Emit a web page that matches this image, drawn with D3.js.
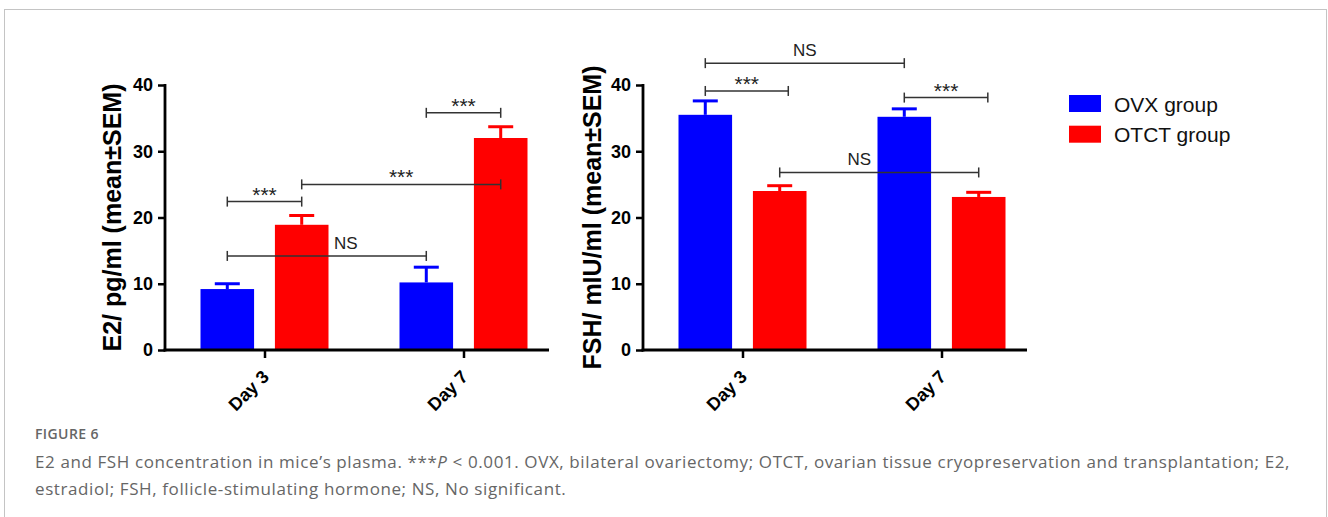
<!DOCTYPE html>
<html>
<head>
<meta charset="utf-8">
<script src="https://cdn.jsdelivr.net/npm/d3@7"></script>
<style>
  body { margin: 0; background: #fff; }
  svg { display: block; }
</style>
</head>
<body>
<script>
// ---- data ----
var days = ["Day 3", "Day 7"];
var groups = ["OVX group", "OTCT group"];
var groupColors = ["#0000ff", "#ff0000"];
var yTicks = [0, 10, 20, 30, 40];

var e2OvxMean = [9.2, 10.2];
var e2OvxSem = [0.8, 2.3];
var e2OtctMean = [18.9, 32.0];
var e2OtctSem = [1.4, 1.7];

var fshOvxMean = [35.5, 35.2];
var fshOvxSem = [2.1, 1.2];
var fshOtctMean = [24.0, 23.1];
var fshOtctSem = [0.8, 0.7];

// comparisons: [day, group] -> [day, group], at a level in axis units
var e2Comparisons = [
    { from: [0, 0], to: [0, 1], level: 22.4, label: "***" },
    { from: [0, 1], to: [1, 1], level: 25.0, label: "***" },
    { from: [0, 0], to: [1, 0], level: 14.2, label: "NS" },
    { from: [1, 0], to: [1, 1], level: 35.8, label: "***" }
];
var fshComparisons = [
    { from: [0, 0], to: [1, 0], level: 43.3, label: "NS" },
    { from: [0, 0], to: [0, 1], level: 39.1, label: "***" },
    { from: [1, 0], to: [1, 1], level: 38.1, label: "***" },
    { from: [0, 1], to: [1, 1], level: 26.8, label: "NS" }
];

var captionTitle = "FIGURE 6";

// ---- layout ----
var svg = d3.select("body").append("svg")
    .attr("width", 1328)
    .attr("height", 517);

svg.append("rect")
    .attr("x", 4.5).attr("y", 9.5)
    .attr("width", 1322).attr("height", 600)
    .attr("fill", "none")
    .attr("stroke", "#c4c4c4")
    .attr("stroke-width", 1);

var plotTop = 85, plotBottom = 350, plotW = 384;

var y = d3.scaleLinear().domain([0, 40]).range([plotBottom, plotTop]);

function drawPanel(left, titleText, titleX, ovxMean, ovxSem, otctMean, otctSem, comps, nudges, ends) {
    var g = svg.append("g").attr("transform", "translate(" + left + ",0)");

    var x0 = d3.scaleBand().domain(days).range([0, 398]).paddingInner(0).paddingOuter(0);
    var x1 = d3.scaleBand().domain(groups).range([0, 128]).paddingInner(0.28);
    var offset = x0.bandwidth() / 2 - 64;

    var means = [ovxMean, otctMean];
    var sems = [ovxSem, otctSem];

    var bars = [];
    days.forEach(function (d, i) {
        groups.forEach(function (s, j) {
            bars.push({ day: d, group: s, j: j, mean: means[j][i], sem: sems[j][i] });
        });
    });

    function barX(d) { return x0(d.day) + offset + x1(d.group); }

    // bars
    g.selectAll(".bar")
        .data(bars)
        .enter().append("rect")
        .attr("class", "bar")
        .attr("x", barX)
        .attr("y", function (d) { return y(d.mean); })
        .attr("width", x1.bandwidth())
        .attr("height", function (d) { return y(0) - y(d.mean); })
        .attr("fill", function (d) { return groupColors[d.j]; });

    // error bars (upper only)
    var eb = g.selectAll(".err")
        .data(bars)
        .enter().append("g")
        .attr("class", "err")
        .attr("stroke", function (d) { return groupColors[d.j]; })
        .attr("stroke-width", 3);
    eb.append("line")
        .attr("x1", function (d) { return barX(d) + x1.bandwidth() / 2; })
        .attr("x2", function (d) { return barX(d) + x1.bandwidth() / 2; })
        .attr("y1", function (d) { return y(d.mean); })
        .attr("y2", function (d) { return y(d.mean + d.sem); });
    eb.append("line")
        .attr("x1", function (d) { return barX(d) + x1.bandwidth() / 2 - 12.5; })
        .attr("x2", function (d) { return barX(d) + x1.bandwidth() / 2 + 12.5; })
        .attr("y1", function (d) { return y(d.mean + d.sem); })
        .attr("y2", function (d) { return y(d.mean + d.sem); });

    // y axis
    var yAxis = d3.axisLeft(y).tickValues(yTicks).tickSize(7).tickPadding(5);
    var ya = g.append("g").attr("class", "y axis").call(yAxis);
    ya.select(".domain").remove();
    ya.selectAll(".tick line").attr("stroke", "#000").attr("stroke-width", 2.5);
    ya.selectAll(".tick text")
        .attr("font-family", "Liberation Sans, Arial, sans-serif")
        .attr("font-weight", "bold")
        .attr("font-size", 18)
        .attr("fill", "#000");
    g.append("line")
        .attr("x1", 0).attr("x2", 0)
        .attr("y1", y(40) - 1).attr("y2", y(0) + 1.5)
        .attr("stroke", "#000").attr("stroke-width", 2.8);

    // x axis
    var xAxis = d3.axisBottom(d3.scalePoint().domain(days).range([x0(days[0]) + x0.bandwidth() / 2, x0(days[1]) + x0.bandwidth() / 2]))
        .tickSize(8);
    var xa = g.append("g").attr("class", "x axis")
        .attr("transform", "translate(0," + y(0) + ")")
        .call(xAxis);
    xa.select(".domain").remove();
    xa.selectAll(".tick line").attr("stroke", "#000").attr("stroke-width", 2.5);
    xa.selectAll(".tick text")
        .attr("font-family", "Liberation Sans, Arial, sans-serif")
        .attr("font-weight", "bold")
        .attr("font-size", 18)
        .attr("fill", "#000")
        .attr("text-anchor", "end")
        .attr("dy", null)
        .attr("y", null)
        .attr("transform", "translate(5,28) rotate(-45)");
    g.append("line")
        .attr("x1", -1.4).attr("x2", plotW)
        .attr("y1", y(0)).attr("y2", y(0))
        .attr("stroke", "#000").attr("stroke-width", 2.8);

    // axis title
    g.append("text")
        .attr("transform", "translate(" + titleX + "," + ((plotTop + plotBottom) / 2) + ") rotate(-90)")
        .attr("text-anchor", "middle")
        .attr("dy", "0.35em")
        .attr("font-family", "Liberation Sans, Arial, sans-serif")
        .attr("font-weight", "bold")
        .attr("font-size", 25)
        .attr("fill", "#000")
        .text(titleText);

    // comparison brackets
    function endX(p, frac) {
        return x0(days[p[0]]) + offset + x1(groups[p[1]]) + x1.bandwidth() * frac;
    }
    comps.forEach(function (c, k) {
        var xa1 = endX(c.from, 0.5);
        var xa2 = endX(c.to, ends[k]);
        var yy = y(c.level);
        var b = g.append("g").attr("stroke", "#333").attr("stroke-width", 1.5);
        b.append("line").attr("x1", xa1).attr("x2", xa2).attr("y1", yy).attr("y2", yy);
        b.append("line").attr("x1", xa1).attr("x2", xa1).attr("y1", yy - 5).attr("y2", yy + 5);
        b.append("line").attr("x1", xa2).attr("x2", xa2).attr("y1", yy - 5).attr("y2", yy + 5);
        var isStar = c.label === "***";
        g.append("text")
            .attr("x", (xa1 + xa2) / 2 + nudges[k])
            .attr("y", yy - (isStar ? 0 : 7))
            .attr("text-anchor", "middle")
            .attr("font-family", "Liberation Sans, Arial, sans-serif")
            .attr("font-size", isStar ? 21 : 17)
            .attr("fill", "#222")
            .text(c.label);
    });
}

drawPanel(165, "E2/ pg/ml (mean\u00b1SEM)", -53, e2OvxMean, e2OvxSem, e2OtctMean, e2OtctSem,
    e2Comparisons, [0, 0, 19, 0], [0.5, 0.5, 0.5, 0.5]);
drawPanel(643, "FSH/ mIU/ml (mean\u00b1SEM)", -51, fshOvxMean, fshOvxSem, fshOtctMean, fshOtctSem,
    fshComparisons, [0, 0, 0, -20], [0.5, 0.66, 0.67, 0.5]);

// legend
var legend = svg.append("g").attr("transform", "translate(1069,95)");
groups.forEach(function (s, i) {
    legend.append("rect")
        .attr("x", 0).attr("y", i * 30.7)
        .attr("width", 32).attr("height", 17)
        .attr("fill", groupColors[i]);
    legend.append("text")
        .attr("x", 45).attr("y", i * 30.7 + 9)
        .attr("dy", "0.36em")
        .attr("font-family", "Liberation Sans, Arial, sans-serif")
        .attr("font-size", 21)
        .attr("fill", "#111")
        .text(s);
});

// caption
var cap = svg.append("g")
    .attr("font-family", "Open Sans, sans-serif")
    .attr("fill", "#666");
cap.append("text")
    .attr("x", 35).attr("y", 439)
    .attr("font-size", 14)
    .attr("font-weight", 600)
    .attr("letter-spacing", 0.4)
    .text(captionTitle);
var l1 = cap.append("text").attr("x", 35).attr("y", 468)
    .attr("font-size", 17).attr("letter-spacing", 0.6);
l1.append("tspan").text("E2 and FSH concentration in mice\u2019s plasma. ***");
l1.append("tspan").attr("font-style", "italic").text("P");
l1.append("tspan").text(" < 0.001. OVX, bilateral ovariectomy; OTCT, ovarian tissue cryopreservation and transplantation; E2,");
cap.append("text").attr("x", 35).attr("y", 495)
    .attr("font-size", 17).attr("letter-spacing", 0.6)
    .text("estradiol; FSH, follicle-stimulating hormone; NS, No significant.");
</script>
</body>
</html>
